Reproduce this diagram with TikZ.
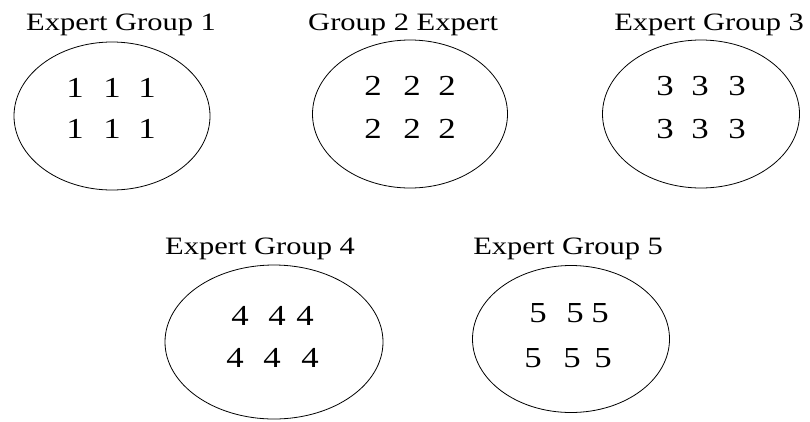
\documentclass[tikz,border=0pt]{standalone}
\usepackage{fontspec}
\setmainfont{Liberation Serif}
\usetikzlibrary{positioning,shapes.geometric}

\begin{document}
\begin{tikzpicture}[x=1pt,y=-1pt,
                group node/.style={ellipse,draw,line width=0.8pt,inner sep=0pt},
                title node/.style={anchor=base west,inner sep=0pt,xscale=1.22,transform shape,font=\fontsize{25}{30}\selectfont},
                num node/.style={anchor=base,inner sep=0pt,xscale=1.2,transform shape,font=\fontsize{29}{34}\selectfont}]
\useasboundingbox (0,0) rectangle (810,421);
%Groups
    \node[group node,minimum width=196pt,minimum height=148pt] (G1) at (112,116) {};
    \node[group node,minimum width=195pt,minimum height=148pt] (G2) at (410,114) {};
    \node[group node,minimum width=197pt,minimum height=148pt] (G3) at (701,114) {};
    \node[group node,minimum width=218pt,minimum height=154pt] (G4) at (274,342) {};
    \node[group node,minimum width=197pt,minimum height=147pt] (G5) at (571,339) {};
%Titles
    \node[title node] (T1) at (26,30) {Expert Group 1};
    \node[title node] (T2) at (308,30) {Group 2 Expert};
    \node[title node] (T3) at (614,30) {Expert Group 3};
    \node[title node] (T4) at (165,254) {Expert Group 4};
    \node[title node] (T5) at (473,254) {Expert Group 5};
%Members
    \foreach \x [count=\i] in {75,112,147}{
        \node[num node] (A\i) at (\x,97) {1};
        \node[num node] (B\i) at (\x,138) {1};}
    \foreach \x [count=\i] in {373,412,447}{
        \node[num node] (C\i) at (\x,95) {2};
        \node[num node] (D\i) at (\x,138) {2};}
    \foreach \x [count=\i] in {665,700,737}{
        \node[num node] (E\i) at (\x,95) {3};
        \node[num node] (F\i) at (\x,138) {3};}
    \foreach \x [count=\i] in {240,277,305}
        \node[num node] (H\i) at (\x,325) {4};
    \foreach \x [count=\i] in {235,272,310}
        \node[num node] (J\i) at (\x,367) {4};
    \foreach \x [count=\i] in {538,575,600}
        \node[num node] (K\i) at (\x,322) {5};
    \foreach \x [count=\i] in {533,572,603}
        \node[num node] (L\i) at (\x,367) {5};
\end{tikzpicture}
\end{document}
